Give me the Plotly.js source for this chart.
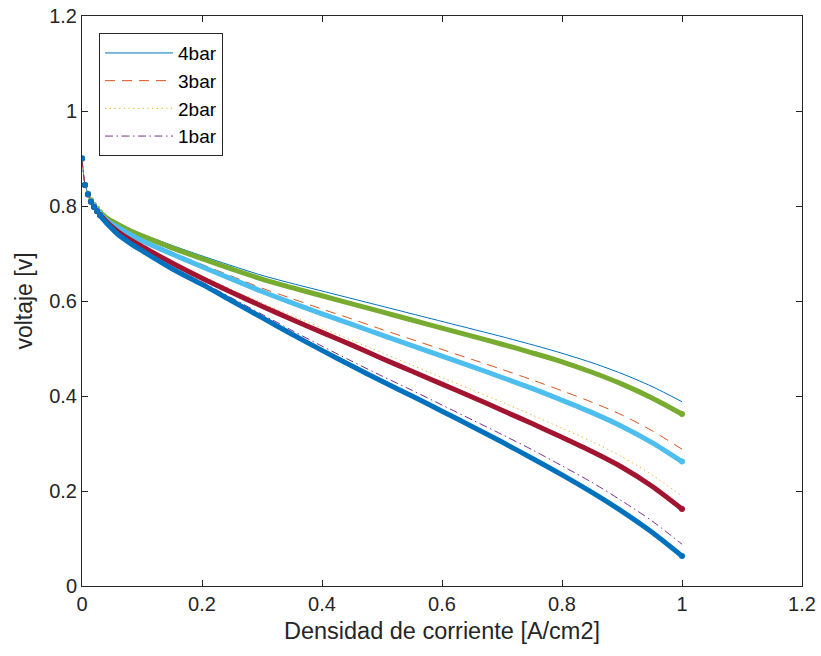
<!DOCTYPE html>
<html>
<head>
<meta charset="utf-8">
<script src="https://cdn.plot.ly/plotly-3.0.1.min.js"></script>
<style>html,body{margin:0;padding:0;background:#fff;}#chart{width:821px;height:656px;}</style>
</head>
<body>
<div id="chart"></div>
<script>
// Current density [A/cm2]
const x = [0, 0.005, 0.01, 0.015, 0.02, 0.025, 0.03, 0.04, 0.05, 0.06, 0.08, 0.1, 0.15, 0.2, 0.25, 0.3, 0.35, 0.4, 0.45, 0.5, 0.55, 0.6, 0.65, 0.7, 0.75, 0.8, 0.85, 0.9, 0.95, 1.0];

// Thin styled lines (legend entries)
const bar4 = [0.9, 0.845, 0.827, 0.813, 0.803, 0.795, 0.788, 0.777, 0.770, 0.764, 0.752, 0.741, 0.717, 0.695, 0.674, 0.654, 0.637, 0.621, 0.605, 0.589, 0.573, 0.557, 0.541, 0.525, 0.508, 0.490, 0.470, 0.447, 0.420, 0.388];
const bar3 = [0.9, 0.845, 0.826, 0.811, 0.801, 0.792, 0.785, 0.773, 0.764, 0.757, 0.742, 0.730, 0.703, 0.677, 0.652, 0.627, 0.605, 0.583, 0.562, 0.540, 0.519, 0.498, 0.477, 0.456, 0.434, 0.411, 0.387, 0.360, 0.327, 0.288];
const bar2 = [0.9, 0.845, 0.825, 0.810, 0.799, 0.790, 0.782, 0.770, 0.758, 0.748, 0.731, 0.718, 0.684, 0.653, 0.624, 0.596, 0.569, 0.543, 0.517, 0.491, 0.465, 0.439, 0.413, 0.387, 0.360, 0.332, 0.304, 0.272, 0.234, 0.189];
const bar1 = [0.9, 0.845, 0.826, 0.810, 0.799, 0.790, 0.781, 0.767, 0.755, 0.743, 0.726, 0.710, 0.672, 0.640, 0.606, 0.572, 0.538, 0.505, 0.473, 0.442, 0.412, 0.381, 0.350, 0.319, 0.287, 0.253, 0.218, 0.179, 0.137, 0.088];

// Thick dotted series
const green = [0.9, 0.844, 0.826, 0.812, 0.802, 0.794, 0.787, 0.776, 0.768, 0.761, 0.748, 0.737, 0.712, 0.689, 0.667, 0.646, 0.628, 0.611, 0.594, 0.577, 0.560, 0.543, 0.526, 0.509, 0.491, 0.472, 0.450, 0.425, 0.396, 0.362];
const lightBlue = [0.9, 0.844, 0.825, 0.810, 0.800, 0.791, 0.784, 0.771, 0.762, 0.755, 0.740, 0.727, 0.699, 0.672, 0.646, 0.620, 0.596, 0.573, 0.551, 0.528, 0.506, 0.484, 0.462, 0.439, 0.416, 0.391, 0.365, 0.336, 0.302, 0.262];
const darkRed = [0.9, 0.844, 0.824, 0.809, 0.798, 0.789, 0.781, 0.768, 0.756, 0.746, 0.729, 0.715, 0.680, 0.648, 0.618, 0.589, 0.561, 0.534, 0.507, 0.479, 0.452, 0.425, 0.398, 0.370, 0.342, 0.313, 0.283, 0.250, 0.210, 0.162];
const blueDots = [0.9, 0.844, 0.825, 0.809, 0.798, 0.789, 0.780, 0.765, 0.752, 0.740, 0.722, 0.706, 0.668, 0.635, 0.600, 0.565, 0.530, 0.496, 0.463, 0.431, 0.400, 0.368, 0.336, 0.303, 0.269, 0.234, 0.197, 0.157, 0.113, 0.063];

const legendNames = ['4bar', '3bar', '2bar', '1bar'];
const tickVals = [0, 0.2, 0.4, 0.6, 0.8, 1, 1.2];
const tickText = ['0', '0.2', '0.4', '0.6', '0.8', '1', '1.2'];

const FONT = '"Liberation Sans", Arial, Helvetica, sans-serif';
const AX = '#262626';

const thin = [
  {y: bar4, color: '#0072BD', dash: 'solid'},
  {y: bar3, color: '#D95319', dash: '10px,7px'},
  {y: bar2, color: '#EDB120', dash: '1.3px,3.4px'},
  {y: bar1, color: '#7E2F8E', dash: '8px,3.5px,1.5px,3.5px'}
];
const thick = [
  {y: green, color: '#77AC30'},
  {y: lightBlue, color: '#4DBEEE'},
  {y: darkRed, color: '#A2142F'},
  {y: blueDots, color: '#0072BD'}
];

const traces = [];
thin.forEach((s, i) => {
  traces.push({x: x, y: s.y, type: 'scatter', mode: 'lines', name: legendNames[i],
    line: {color: s.color, width: 1, dash: s.dash, shape: 'spline', smoothing: 0.8}, hoverinfo: 'skip'});
});
const startIdx = x.indexOf(0.03);
const last = x.length - 1;
thick.forEach(s => {
  // continuous dense band from 0.03 on
  traces.push({x: x.slice(startIdx), y: s.y.slice(startIdx), type: 'scatter', mode: 'lines',
    showlegend: false, line: {color: s.color, width: 5, shape: 'spline', smoothing: 0.8}, hoverinfo: 'skip'});
  // separate dots visible near the start, and the rounded end point
  traces.push({x: x.slice(0, startIdx + 1).concat([x[last]]),
    y: s.y.slice(0, startIdx + 1).concat([s.y[last]]),
    type: 'scatter', mode: 'markers', showlegend: false,
    marker: {color: s.color, size: 6}, hoverinfo: 'skip'});
});

const axisCommon = {
  showline: true, mirror: 'ticks', linecolor: AX, linewidth: 1,
  ticks: 'inside', ticklen: 6, tickcolor: AX, tickwidth: 1,
  showgrid: false, zeroline: false,
  tickfont: {family: FONT, size: 20, color: AX},
  tickvals: tickVals, ticktext: tickText
};

const layout = {
  width: 821, height: 656,
  margin: {l: 82, r: 19, t: 16, b: 70},
  paper_bgcolor: '#fff', plot_bgcolor: '#fff',
  font: {family: FONT, color: AX},
  xaxis: Object.assign({}, axisCommon, {range: [0, 1.2],
    title: {text: 'Densidad de corriente [A/cm2]', font: {family: FONT, size: 23.5, color: AX}, standoff: 8}}),
  yaxis: Object.assign({}, axisCommon, {range: [0, 1.2],
    title: {text: 'voltaje [v]', font: {family: FONT, size: 23, color: AX}, standoff: 10}}),
  legend: {x: 0.0236, y: 0.97, xanchor: 'left', yanchor: 'top',
    bgcolor: '#fff', bordercolor: AX, borderwidth: 1,
    font: {family: FONT, size: 19, color: '#000'}, itemwidth: 68, tracegroupgap: 0},
  showlegend: true
};

Plotly.newPlot('chart', traces, layout, {staticPlot: true, displayModeBar: false});
</script>
</body>
</html>
